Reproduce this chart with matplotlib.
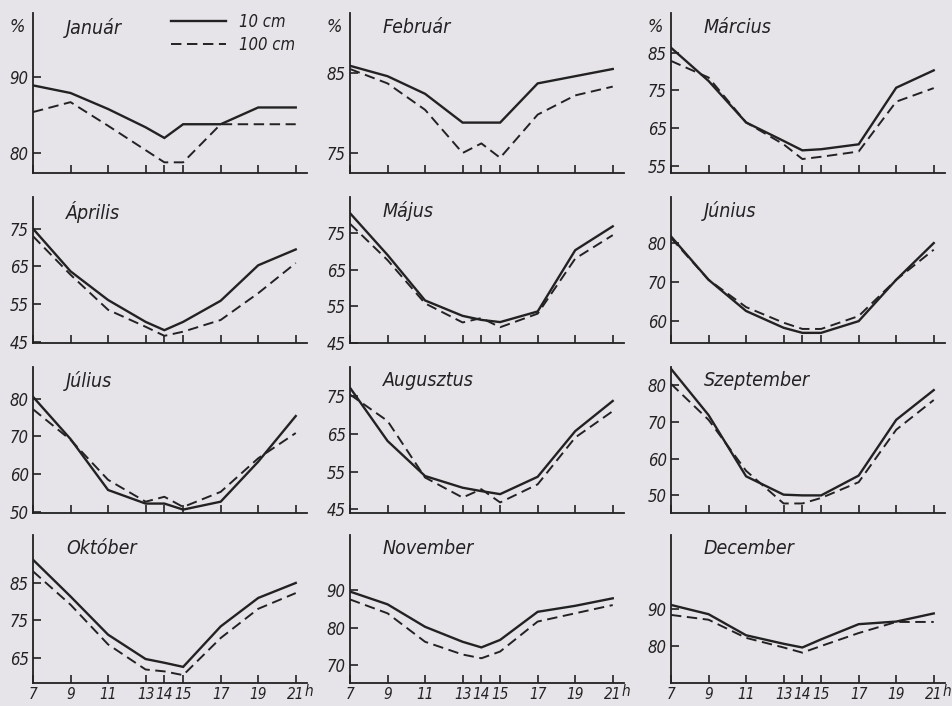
import matplotlib
matplotlib.use("Agg")
import matplotlib.pyplot as plt

# hónapos relatív nedvesség napi menete, 10 cm és 100 cm magasságban
plt.rcParams['font.family'] = ['DejaVu Sans']
plt.rcParams['font.style'] = 'italic'
plt.rcParams['font.stretch'] = 'condensed'
plt.rcParams['lines.scale_dashes'] = False

hours = [7, 9, 11, 13, 14, 15, 17, 19, 21]
hour_labels = ['7', '9', '11', '13', '14', '15', '17', '19', '21']
months = ['Január', 'Február', 'Március', 'Április', 'Május', 'Június',
          'Július', 'Augusztus', 'Szeptember', 'Október', 'November', 'December']

cm10 = [
    [88.9, 87.9, 85.8, 83.4, 82.0, 83.8, 83.8, 86.0, 86.0],
    [85.9, 84.6, 82.4, 78.8, 78.8, 78.8, 83.7, 84.6, 85.5],
    [86.3, 77.5, 66.5, 61.6, 59.1, 59.4, 60.7, 75.7, 80.3],
    [75.0, 63.7, 56.1, 50.3, 48.1, 50.3, 55.9, 65.3, 69.5],
    [80.4, 69.0, 56.6, 52.4, 51.3, 50.7, 53.6, 70.3, 76.8],
    [81.7, 70.6, 62.6, 58.3, 57.0, 57.0, 60.0, 70.6, 80.0],
    [80.5, 69.3, 55.8, 52.2, 52.2, 50.6, 52.7, 63.3, 75.4],
    [77.2, 63.1, 53.8, 50.7, 49.8, 49.0, 53.6, 65.7, 73.7],
    [84.5, 71.9, 55.2, 50.2, 50.0, 50.0, 55.4, 70.6, 78.7],
    [91.2, 81.4, 71.2, 64.7, 63.7, 62.6, 73.4, 81.0, 85.0],
    [89.6, 86.2, 80.2, 76.2, 74.7, 76.7, 84.2, 85.8, 87.8],
    [91.1, 88.6, 82.9, 80.6, 79.6, 81.8, 85.9, 86.6, 88.8],
]
cm100 = [
    [85.4, 86.7, 83.6, 80.4, 78.8, 78.8, 83.8, 83.8, 83.8],
    [85.5, 83.7, 80.4, 75.0, 76.2, 74.4, 79.8, 82.2, 83.3],
    [82.8, 78.4, 66.5, 60.7, 56.8, 57.4, 58.8, 72.0, 75.6],
    [73.0, 62.8, 53.5, 49.0, 46.6, 47.7, 50.8, 57.9, 65.9],
    [77.5, 67.6, 55.8, 50.6, 51.8, 49.3, 53.0, 68.0, 74.4],
    [81.3, 70.6, 63.6, 59.6, 58.0, 58.0, 61.3, 70.6, 78.3],
    [77.2, 69.1, 58.5, 52.7, 54.0, 51.3, 55.3, 64.2, 70.9],
    [75.4, 68.4, 53.4, 48.1, 50.3, 46.8, 51.6, 64.0, 71.0],
    [80.4, 70.6, 56.7, 47.8, 47.8, 49.3, 53.6, 67.9, 76.0],
    [88.1, 79.2, 68.6, 61.9, 61.4, 60.4, 70.3, 78.1, 82.3],
    [87.5, 83.8, 76.2, 72.8, 71.8, 73.6, 81.6, 83.8, 86.0],
    [88.4, 87.1, 82.2, 79.6, 78.2, 80.0, 83.5, 86.5, 86.5],
]
yticks = [
    [80, 90], [75, 85], [55, 65, 75, 85],
    [45, 55, 65, 75], [45, 55, 65, 75], [60, 70, 80],
    [50, 60, 70, 80], [45, 55, 65, 75], [50, 60, 70, 80],
    [65, 75, 85], [70, 80, 90], [80, 90],
]
ylims = [
    (77.4, 98.4), (72.5, 92.5), (53.1, 95.5),
    (44.7, 83.4), (45.0, 84.8), (54.4, 91.8),
    (49.7, 88.4), (44.0, 82.7), (45.2, 85.0),
    (58.3, 97.8), (65.2, 104.7), (70.0, 110.0),
]

W, H = 953, 706
bg = '#e7e4e9'
ink = '#222222'
col_left = [33, 350, 671]
row_top = [13, 197, 367, 535]
row_bot = [173, 343, 513, 683]
ax_w = 274

fig = plt.figure(figsize=(W / 100, H / 100), dpi=100, facecolor=bg)

for i, name in enumerate(months):
    r, c = divmod(i, 3)
    ax = fig.add_axes([col_left[c] / W, 1 - row_bot[r] / H, ax_w / W,
                       (row_bot[r] - row_top[r]) / H])
    ax.set_facecolor('none')
    l1, = ax.plot(hours, cm10[i], color=ink, lw=1.7, solid_joinstyle='miter')
    l2, = ax.plot(hours, cm100[i], color=ink, lw=1.4, dashes=(7.5, 4))
    ax.set_xlim(7, 21.6)
    ax.set_ylim(*ylims[i])
    for s in ['top', 'right']:
        ax.spines[s].set_visible(False)
    for s in ['left', 'bottom']:
        ax.spines[s].set_color(ink)
        ax.spines[s].set_linewidth(1.3)
    ax.set_xticks(hours)
    ax.set_yticks(yticks[i])
    ax.tick_params(direction='in', length=6, width=1.2, color=ink,
                   labelsize=12, labelcolor=ink, pad=3)
    ax.tick_params(axis='x', labelsize=11)
    if r == 3:
        ax.set_xticklabels(hour_labels)
        ax.annotate('h', xy=(21, 0), xycoords=('data', 'axes fraction'),
                    xytext=(6, -9), textcoords='offset points',
                    fontsize=11, color=ink)
    else:
        ax.set_xticklabels([])
    ax.text(0.12, 0.97, name, transform=ax.transAxes, fontsize=14,
            color=ink, va='top', ha='left')
    if r == 0:
        ax.text(-0.03, 0.97, '%', transform=ax.transAxes, fontsize=13,
                color=ink, va='top', ha='right')
    if i == 0:
        ax.legend([l1, l2], ['10 cm', '100 cm'], loc='upper right',
                  bbox_to_anchor=(0.97, 1.02), frameon=False, fontsize=12,
                  handlelength=3.3, labelcolor=ink, handletextpad=0.8,
                  labelspacing=0.3, borderaxespad=0.0, borderpad=0.2)

plt.savefig('out.png', dpi=100, facecolor=bg)
